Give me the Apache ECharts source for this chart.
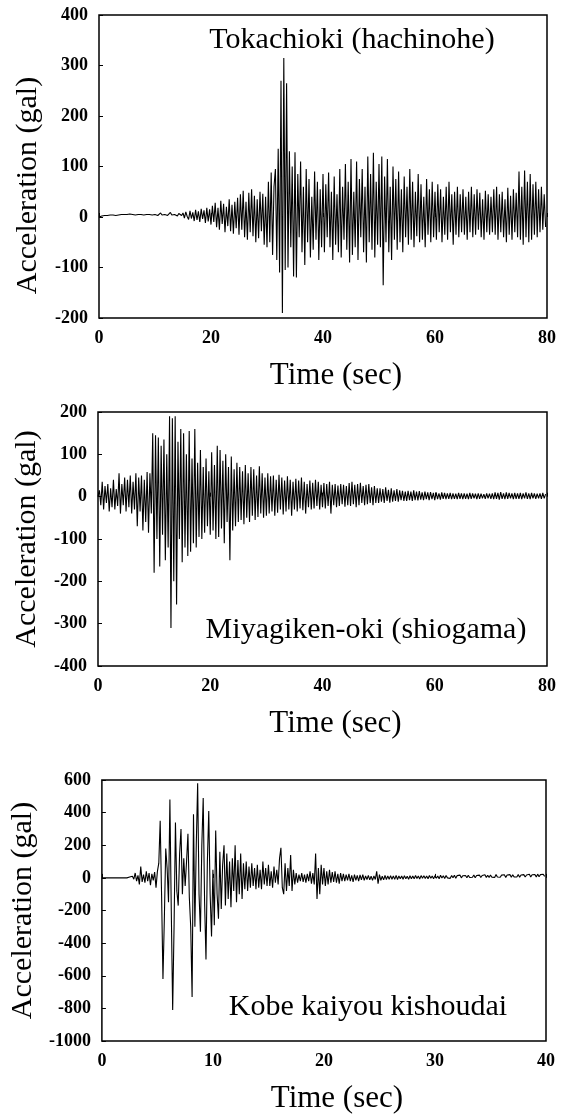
<!DOCTYPE html>
<html>
<head>
<meta charset="utf-8">
<script src="https://cdn.jsdelivr.net/npm/echarts@6/dist/echarts.min.js"></script>
<style>
html,body{margin:0;padding:0;background:#fff;}
#c{width:573px;height:1115px;}
</style>
</head>
<body>
<div id="c"></div>
<script>
// ---------- DATA ----------
const titles = ["Tokachioki (hachinohe)", "Miyagiken-oki (shiogama)", "Kobe kaiyou kishoudai"];
const yTicks1 = [-200, -100, 0, 100, 200, 300, 400];
const yTicks2 = [-400, -300, -200, -100, 0, 100, 200];
const yTicks3 = [-1000, -800, -600, -400, -200, 0, 200, 400, 600];
const xTicks1 = [0, 20, 40, 60, 80];
const xTicks3 = [0, 10, 20, 30, 40];

// sample step (sec)
const dt1 = 0.25, dt2 = 0.25, dt3 = 0.125;

// Tokachioki (hachinohe) acceleration, gal, every 0.25 s from 0 s
const acc1 = [
 0,1,2,2,3,2,3,3,4,3,4,4,3,5,4,4,5,3,5,4,
 5,4,6,4,5,6,4,7,5,6,5,7,4,6,5,7,5,6,4,6,
 5,7,3,6,8,4,7,5,8,3,6,9,4,7,5,8,2,7,9,3,
 8,-2,10,1,-5,12,-3,9,-8,14,-6,11,-10,16,-4,13,-12,18,-9,15,
 -15,22,-10,28,-20,18,-25,32,-14,26,-30,20,-18,35,-28,24,-33,30,-22,38,
 -35,45,-25,52,-40,30,-45,48,-30,55,-38,42,-50,35,-42,50,-28,46,-55,40,
 -60,70,-50,88,-75,60,95,-85,135,-110,270,-190,315,-105,265,-100,130,-60,100,-118,
 128,-120,85,-40,110,-70,60,-95,95,-50,75,-80,40,-65,90,-45,70,-85,55,-60,
 85,-70,65,-40,88,-60,50,-85,80,-55,45,-70,95,-80,60,-45,105,-65,70,-90,
 115,-75,50,-60,110,-85,75,-40,95,-70,60,-90,120,-50,85,-65,127,-80,70,-55,
 105,-60,120,-135,80,-50,115,-70,60,-85,100,-45,75,-65,90,-50,55,-70,80,-40,
 60,-55,95,-45,70,-60,50,-38,85,-50,65,-45,40,-60,75,-35,55,-50,70,-40,
 50,-45,65,-30,55,-50,40,-35,60,-45,70,-30,45,-55,50,-35,60,-40,45,-30,
 55,-35,40,-45,50,-30,60,-40,45,-35,55,-25,48,-40,35,-45,52,-30,45,-35,
 40,-30,55,-35,60,-45,45,-30,50,-40,35,-50,58,-35,42,-45,55,-30,48,-40,
 90,-45,60,-55,92,-40,70,-50,85,-45,65,-35,70,-40,55,-30,60,-25,45,-20
];

// Miyagiken-oki (shiogama) acceleration, gal, every 0.25 s from 0 s
const acc2 = [
 0,15,-20,35,-30,25,-15,30,-35,20,-25,40,-30,18,-22,55,-40,30,-20,45,
 -35,40,-25,50,-40,35,-30,55,-70,45,-35,50,-80,40,-60,58,-85,55,-40,150,
 -180,145,-100,140,-165,120,-90,135,-150,100,-120,190,-310,185,-200,190,-255,130,-100,160,
 -155,150,-120,100,-140,155,-130,90,-110,160,-120,80,-95,110,-100,70,-85,90,-70,60,
 -90,105,-80,75,-100,120,-95,110,-75,85,-110,100,-60,70,-150,95,-80,65,-70,80,
 -60,70,-55,60,-65,75,-50,55,-60,70,-45,65,-55,50,-48,72,-40,55,-50,45,
 -45,55,-40,48,-35,50,-45,40,-38,52,-30,45,-42,38,-35,48,-30,40,-45,35,
 -30,42,-35,38,-28,45,-32,35,-40,30,-25,38,-30,33,-28,40,-22,35,-30,28,
 -25,32,-28,30,-22,35,-40,28,-20,30,-25,26,-22,30,-18,28,-24,25,-20,32,
 -22,35,-18,28,-25,30,-20,33,-15,25,-20,28,-18,30,-15,22,-20,25,-15,20,
 -15,20,-12,18,-15,22,-10,16,-14,20,-12,15,-10,18,-12,15,-8,14,-10,12,
 -10,14,-8,12,-10,15,-8,12,-9,13,-7,10,-8,12,-6,10,-8,11,-6,9,
 -8,10,-6,8,-7,10,-5,9,-6,8,-5,9,-6,8,-5,7,-6,9,-5,8,
 -6,8,-5,7,-6,9,-5,8,-4,7,-6,8,-5,7,-4,6,-5,8,-4,7,
 -5,8,-6,10,-5,9,-7,11,-5,8,-6,10,-5,9,-4,8,-6,9,-5,8,
 -5,9,-6,8,-4,10,-5,8,-6,9,-4,8,-5,7,-4,8,-5,9,-4,6
];

// Kobe kaiyou kishoudai acceleration, gal, every 0.125 s from 0 s
const acc3 = [
 0,0,0,0,0,0,0,0,
 0,0,0,0,0,0,0,0,
 0,0,0,0,5,-5,10,-8,
 30,-20,15,-40,70,-25,20,-30,
 40,-20,30,-45,25,-15,35,-60,
 40,90,350,-100,-620,-250,180,60,
 -150,480,-200,-810,-300,340,-80,-170,
 150,300,-100,120,-50,100,270,-120,
 -300,-730,390,-300,200,580,-100,-330,
 200,490,-150,-500,100,410,-100,-360,
 50,-290,290,-100,-250,160,-190,80,
 200,-170,150,-130,100,-180,120,-80,
 200,-150,110,-100,150,-130,90,-70,
 100,-80,70,-60,90,-50,60,-70,
 80,-60,50,-70,100,-40,60,-50,
 80,-50,40,-60,70,-30,50,-40,
 120,185,-60,-100,90,-80,60,-50,
 140,-80,50,-40,30,-30,20,-20,
 30,-25,20,-30,25,-20,40,-35,
 30,-40,150,-130,60,-100,80,-40,
 60,-50,40,-40,50,-30,35,-25,
 40,-30,25,-35,30,-20,25,-20,
 20,-15,25,-20,15,-25,20,-15,
 15,-20,18,-12,20,-15,12,-10,
 15,-12,10,-15,12,-10,40,-35,
 20,-15,10,-12,15,-10,12,-8,
 14,-8,12,-9,15,-10,12,-6,
 12,-8,14,-6,10,-9,13,-5,
 12,-6,15,-4,11,-7,14,-3,
 13,-4,12,-5,15,-2,11,-6,
 14,-2,12,-5,16,-1,13,-4,
 15,0,12,-3,14,1,16,-2,
 14,2,17,0,13,3,15,1,
 16,2,14,4,18,1,15,3,
 17,2,15,5,19,3,16,2,
 18,4,16,3,20,5,17,4,
 17,5,19,3,18,6,20,4,
 19,6,17,5,21,4,18,6,
 20,5,18,7,22,6,19,8,
 21,6,23,7,20,8,22,9
];

// ---------- CHART ----------
const FONT = '"Liberation Serif", "Times New Roman", serif';
const toPairs = (arr, dt) => arr.map((v, i) => [i * dt, v]);

const grids = [
  {left: 99, top: 15, width: 448, height: 303},
  {left: 98, top: 412, width: 449, height: 254},
  {left: 93, top: 780, width: 453, height: 264}
];
const yRanges = [yTicks1, yTicks2, yTicks3];
const xRanges = [xTicks1, xTicks1, xTicks3];
const yNamePad = [[0, 38, 0, 0], [0, 0, 0, 0], [0, 0, 0, 0]];

function xAxis(i) {
  const t = xRanges[i];
  return {
    type: 'value', gridIndex: i,
    min: t[0], max: t[t.length - 1], interval: t[1] - t[0],
    name: 'Time (sec)', nameLocation: 'middle', nameGap: 42,
    nameTextStyle: {fontFamily: FONT, fontSize: 31, color: '#000', padding: [0, 0, 0, 26]},
    axisLine: {show: false},
    axisTick: {show: true, inside: true, length: 4, lineStyle: {color: '#000'}},
    axisLabel: {fontFamily: FONT, fontSize: 18, fontWeight: 'bold', color: '#000', margin: 11,
      formatter: v => String(v)},
    splitLine: {show: false}
  };
}
function yAxis(i) {
  const t = yRanges[i];
  return {
    type: 'value', gridIndex: i,
    min: t[0], max: t[t.length - 1], interval: t[1] - t[0],
    name: 'Acceleration (gal)', nameLocation: 'middle', nameGap: 56,
    nameTextStyle: {fontFamily: FONT, fontSize: 30, color: '#000', padding: yNamePad[i]},
    axisLine: {show: false},
    axisTick: {show: true, inside: true, length: 4, lineStyle: {color: '#000'}},
    axisLabel: {fontFamily: FONT, fontSize: 18, fontWeight: 'bold', color: '#000', margin: 11,
      formatter: v => String(v)},
    splitLine: {show: false}
  };
}

const dataSets = [toPairs(acc1, dt1), toPairs(acc2, dt2), toPairs(acc3, dt3)];

const titlePos = [
  {left: 352, top: 40},
  {left: 366, top: 630},
  {left: 368, top: 1007}
];

const chart = echarts.init(document.getElementById('c'), null, {renderer: 'canvas'});
chart.setOption({
  animation: false,
  backgroundColor: '#fff',
  grid: grids.map(g => Object.assign({show: true, borderColor: '#000', borderWidth: 1.5, backgroundColor: 'transparent'}, g)),
  xAxis: [0, 1, 2].map(xAxis),
  yAxis: [0, 1, 2].map(yAxis),
  series: dataSets.map((d, i) => ({
    type: 'line', xAxisIndex: i, yAxisIndex: i, data: d,
    showSymbol: false, symbol: 'none',
    lineStyle: {color: '#000', width: 1.1}
  })),
  graphic: titles.map((t, i) => ({
    type: 'text', x: titlePos[i].left, y: titlePos[i].top,
    style: {text: t, fontFamily: FONT, fontSize: 30, fill: '#000', align: 'center', verticalAlign: 'middle'}
  }))
});
</script>
</body>
</html>
